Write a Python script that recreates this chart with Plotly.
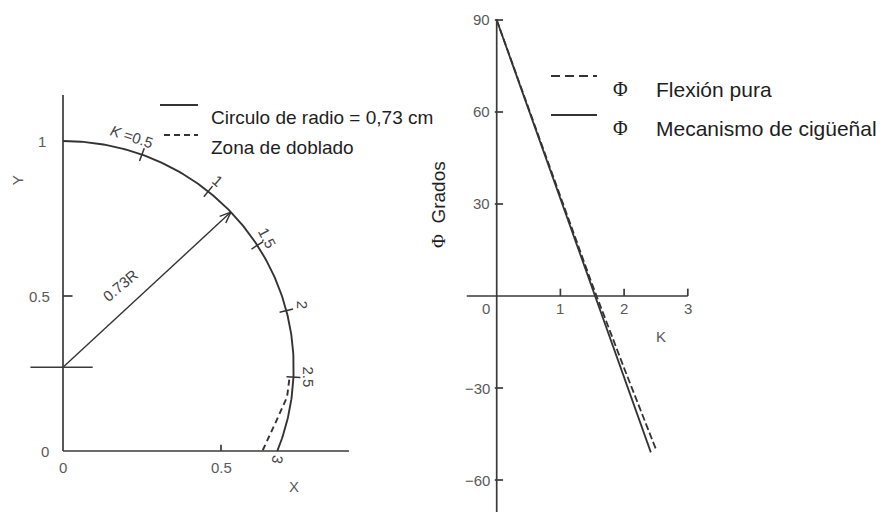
import numpy as np
import plotly.graph_objects as go

W, H = 882, 522

# ---------------- data ----------------
# Left panel: bend geometry in the X-Y plane
circle_cx, circle_cy = 0.0, 0.27
circle_r = 0.73
k_mark_labels = ["1", "1.5", "2", "2.5"]
k_mark_angles = [20, 39, 57.4, 75.5, 92.5]          # degrees, clockwise from +Y, for K = 0.5 .. 2.5
bend_zone_x = [0.716, 0.709, 0.672, 0.631]
bend_zone_y = [0.23, 0.174, 0.09, 0.0]
arrow_angle = 46.7                                   # direction of the 0.73R radius
left_xticks = [0, 0.5]
left_yticks = [0, 0.5, 1]

# Right panel: angle Phi (degrees) against K
k_solid = [0, 0.5, 1, 1.5, 2, 2.42]
phi_solid = [90, 61, 32, 3, -26, -51]
k_dashed = [0, 0.5, 1, 1.5, 2, 2.5]
phi_dashed = [90, 61.3, 32.5, 3.7, -23.5, -50]
right_xticks = [0, 1, 2, 3]
right_yticks = [90, 60, 30, -30, -60]

INK = "#333333"
TICKC = "#5a5a5a"
SANS = "Liberation Sans, Arial, sans-serif"
SERIF = "Liberation Serif, DejaVu Serif, serif"


# ---------------- axes geometry (pixel layout) ----------------
def frame(px0, px1, origin_px, scale, vertical=False):
    """Return (domain, range) for an axis laid out between two pixel edges."""
    if vertical:
        dom = [1 - px1 / H, 1 - px0 / H]
        rng = [(origin_px - px1) / scale, (origin_px - px0) / scale]
    else:
        dom = [px0 / W, px1 / W]
        rng = [(px0 - origin_px) / scale, (px1 - origin_px) / scale]
    return dom, rng


LSX, LSY = 316.0, 310.0
lx_dom, lx_rng = frame(15, 365, 63, LSX)
ly_dom, ly_rng = frame(70, 500, 451, LSY, vertical=True)
RSX, RSY = 63.7, 92.0 / 30.0
rx_dom, rx_rng = frame(420, 780, 496.7, RSX)
ry_dom, ry_rng = frame(5, 520, 296, RSY, vertical=True)

fig = go.Figure()

# ---------------- left panel ----------------
theta_end = np.degrees(np.arccos(-circle_cy / circle_r))
th = np.radians(np.linspace(0, theta_end, 200))
fig.add_trace(go.Scatter(
    x=circle_cx + circle_r * np.sin(th), y=circle_cy + circle_r * np.cos(th),
    mode="lines", line=dict(color=INK, width=1.9), xaxis="x", yaxis="y",
    hoverinfo="skip"))
fig.add_trace(go.Scatter(
    x=bend_zone_x, y=bend_zone_y, mode="lines",
    line=dict(color=INK, width=1.9, dash="6px,4px"), xaxis="x", yaxis="y",
    hoverinfo="skip"))

shapes = []
L = dict(xref="x", yref="y")
axis_line = dict(color="#3a3a3a", width=1.7)
# axes crossing at the origin
shapes.append(dict(type="line", x0=0, x1=0, y0=0, y1=1.148, line=axis_line, **L))
shapes.append(dict(type="line", x0=0, x1=0.905, y0=0, y1=0, line=axis_line, **L))
shapes.append(dict(type="line", x0=0, x1=0.03, y0=0.5, y1=0.5, line=axis_line, **L))
shapes.append(dict(type="line", x0=0.5, x1=0.5, y0=0, y1=0.02, line=axis_line, **L))
# marker through the circle centre
shapes.append(dict(type="line", x0=-0.103, x1=0.094, y0=circle_cy, y1=circle_cy,
                   line=dict(color="#3a3a3a", width=1.4), **L))
# K marks across the arc
for a in k_mark_angles:
    t = np.radians(a)
    r0, r1 = circle_r - 0.022, circle_r + 0.022
    shapes.append(dict(type="line",
                       x0=circle_cx + r0 * np.sin(t), y0=circle_cy + r0 * np.cos(t),
                       x1=circle_cx + r1 * np.sin(t), y1=circle_cy + r1 * np.cos(t),
                       line=dict(color=INK, width=1.5), **L))

# radius arrow with an open head
ta = np.radians(arrow_angle)
hx, hy = circle_cx + circle_r * np.sin(ta), circle_cy + circle_r * np.cos(ta)
fig.add_trace(go.Scatter(x=[circle_cx, hx], y=[circle_cy, hy], mode="lines",
                         line=dict(color=INK, width=1.4), xaxis="x", yaxis="y",
                         hoverinfo="skip"))
dpx, dpy = (hx - circle_cx) * LSX, (hy - circle_cy) * LSY
n = np.hypot(dpx, dpy)
ux, uy = dpx / n, dpy / n
for s in (1, -1):
    ang = np.radians(180 + s * 22)
    wx = ux * np.cos(ang) - uy * np.sin(ang)
    wy = ux * np.sin(ang) + uy * np.cos(ang)
    fig.add_trace(go.Scatter(x=[hx, hx + wx * 12 / LSX], y=[hy, hy + wy * 12 / LSY],
                             mode="lines", line=dict(color=INK, width=1.4),
                             xaxis="x", yaxis="y", hoverinfo="skip"))

ann = []
tickfont = dict(family=SANS, size=15, color=TICKC)
# left tick labels
for v, xx in zip(left_yticks, [-0.058, -0.074, -0.066]):
    ann.append(dict(x=xx, y=v, text=str(v), font=tickfont, **L))
for v in left_xticks:
    ann.append(dict(x=v, y=-0.052, text=str(v), font=tickfont, **L))
ann.append(dict(x=0.73, y=-0.116, text="X", font=tickfont, **L))
ann.append(dict(x=-0.145, y=0.874, text="Y", font=tickfont, textangle=-90, **L))
ann.append(dict(x=0.18, y=0.535, text="0.73R", textangle=-40,
                font=dict(family=SANS, size=15, color="#444"), **L))
# K labels along the arc
kfont = dict(family=SANS, size=15, color="#444")
ann.append(dict(x=0.218, y=1.016, text="<i>K</i> =0.5", textangle=18, font=kfont, **L))
for lab, (xx, yy, rot) in zip(k_mark_labels,
                              [(0.49, 0.874, 40), (0.648, 0.687, 62),
                               (0.757, 0.471, 90), (0.777, 0.239, 90)]):
    ann.append(dict(x=xx, y=yy, text=lab, textangle=rot, font=kfont, **L))
ann.append(dict(x=0.68, y=-0.027, text="3", textangle=100, font=kfont, **L))

# left legend
legfont = dict(family=SANS, size=19, color="#1e1e1e")
P = dict(xref="paper", yref="paper")
shapes.append(dict(type="line", x0=160 / W, x1=198 / W, y0=1 - 105 / H, y1=1 - 105 / H,
                   line=dict(color=INK, width=1.8), **P))
shapes.append(dict(type="line", x0=164 / W, x1=198 / W, y0=1 - 135 / H, y1=1 - 135 / H,
                   line=dict(color=INK, width=1.8, dash="6px,4px"), **P))
ann.append(dict(x=209 / W, y=1 - 105 / H, text="Circulo de radio = 0,73 cm",
                xanchor="left", font=legfont, **P))
ann.append(dict(x=209 / W, y=1 - 135 / H, text="Zona de doblado",
                xanchor="left", font=legfont, **P))

# ---------------- right panel ----------------
fig.add_trace(go.Scatter(x=k_dashed, y=phi_dashed, mode="lines",
                         line=dict(color=INK, width=1.8, dash="7px,3px"),
                         xaxis="x2", yaxis="y2", hoverinfo="skip"))
fig.add_trace(go.Scatter(x=k_solid, y=phi_solid, mode="lines",
                         line=dict(color=INK, width=1.8),
                         xaxis="x2", yaxis="y2", hoverinfo="skip"))
R = dict(xref="x2", yref="y2")
shapes.append(dict(type="line", x0=0, x1=0, y0=-70.4, y1=90.3, line=axis_line, **R))
shapes.append(dict(type="line", x0=-0.47, x1=3.0, y0=0, y1=0, line=axis_line, **R))
for v in right_yticks:
    shapes.append(dict(type="line", x0=-0.03, x1=0.1, y0=v, y1=v, line=axis_line, **R))
for v in right_xticks[1:]:
    shapes.append(dict(type="line", x0=v, x1=v, y0=0, y1=2.4, line=axis_line, **R))
for v in right_yticks:
    txt = str(v) if v > 0 else "\u2212" + str(-v)
    ann.append(dict(x=-0.07, y=v, text=txt, xanchor="right", font=tickfont, **R))
for v in right_xticks:
    ann.append(dict(x=v if v else -0.17, y=-4.2, text=str(v), font=tickfont, **R))
ann.append(dict(x=2.585, y=-13.3, text="K", font=tickfont, **R))

# y-axis title
ann.append(dict(x=438 / W, y=1 - 205 / H,
                text="<span style='font-family:Liberation Serif'>\u03a6</span>  Grados",
                textangle=-90, font=dict(family=SANS, size=19, color="#1e1e1e"), **P))

# right legend
shapes.append(dict(type="line", x0=551 / W, x1=597 / W, y0=1 - 76 / H, y1=1 - 76 / H,
                   line=dict(color=INK, width=1.8, dash="9px,5px"), **P))
shapes.append(dict(type="line", x0=551 / W, x1=597 / W, y0=1 - 115 / H, y1=1 - 115 / H,
                   line=dict(color=INK, width=1.8), **P))
rfont = dict(family=SANS, size=21, color="#1e1e1e")
phifont = dict(family=SERIF, size=20, color="#1e1e1e")
for yy, lab in [(76, "Flexión pura"), (115, "Mecanismo de cigüeñal")]:
    ann.append(dict(x=630 / W, y=1 - yy / H, text="\u03a6", font=phifont, **P))
    ann.append(dict(x=654 / W, y=1 - yy / H, text=lab, xanchor="left", font=rfont, **P))

for a in ann:
    a.setdefault("showarrow", False)

hidden = dict(visible=False, fixedrange=True)
fig.update_layout(
    width=W, height=H, margin=dict(l=0, r=0, t=0, b=0),
    paper_bgcolor="white", plot_bgcolor="rgba(0,0,0,0)", showlegend=False,
    xaxis=dict(domain=lx_dom, range=lx_rng, **hidden),
    yaxis=dict(domain=ly_dom, range=ly_rng, **hidden),
    xaxis2=dict(domain=rx_dom, range=rx_rng, anchor="y2", **hidden),
    yaxis2=dict(domain=ry_dom, range=ry_rng, anchor="x2", **hidden),
    shapes=shapes, annotations=ann,
)
fig.write_html("out.html")
